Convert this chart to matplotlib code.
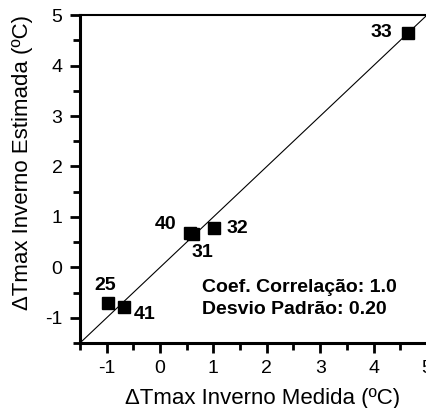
import matplotlib
matplotlib.use("Agg")
import matplotlib.pyplot as plt
from matplotlib.ticker import MultipleLocator

# data: measured vs estimated winter Tmax change
labels = ["33", "40", "31", "32", "25", "41"]
medida = [4.64, 0.57, 0.62, 1.02, -0.98, -0.68]
estimada = [4.64, 0.69, 0.66, 0.78, -0.71, -0.79]
# label offsets in pixels (dx, dy)
offsets = [(-26, 1), (-25, 8), (9, -18), (23, 0), (-2, 18), (21, -7)]

plt.rcParams['font.family'] = ['Liberation Sans', 'DejaVu Sans']
plt.rcParams['axes.unicode_minus'] = False

fig = plt.figure(figsize=(4.27, 4.08), dpi=100, facecolor='white')
ax = fig.add_axes([0.187, 0.159, 0.813, 0.804])

# 1:1 line
ax.plot([-1.5, 5], [-1.5, 5], color='black', lw=0.8)
ax.plot(medida, estimada, 's', color='black', markersize=8, clip_on=False)

for lab, x, y, (dx, dy) in zip(labels, medida, estimada, offsets):
    ax.annotate(lab, (x, y), xytext=(dx, dy), textcoords='offset pixels',
                ha='center', va='center', fontsize=14, fontweight='bold')

ax.text(0.79, -0.39, "Coef. Correlação: 1.0", fontsize=14, fontweight='bold',
        ha='left', va='center')
ax.text(0.79, -0.84, "Desvio Padrão: 0.20", fontsize=14, fontweight='bold',
        ha='left', va='center')

ax.set_xlim(-1.5, 5)
ax.set_ylim(-1.5, 5)
ax.xaxis.set_major_locator(MultipleLocator(1))
ax.xaxis.set_minor_locator(MultipleLocator(0.5))
ax.yaxis.set_major_locator(MultipleLocator(1))
ax.yaxis.set_minor_locator(MultipleLocator(0.5))

ax.spines['right'].set_visible(False)
ax.spines['left'].set_linewidth(2.2)
ax.spines['bottom'].set_linewidth(2.2)
ax.spines['top'].set_linewidth(1.5)

ax.tick_params(which='major', direction='out', length=7.5, width=2, labelsize=14, pad=5)
ax.tick_params(which='minor', direction='out', length=5, width=2)
ax.tick_params(top=False, right=False, which='both')

ax.set_xlabel("ΔTmax Inverno Medida (ºC)", fontsize=16, va='center', ha='center')
ax.set_ylabel("ΔTmax Inverno Estimada (ºC)", fontsize=16, va='center', ha='center')
ax.xaxis.set_label_coords(0.525, -0.168)
ax.yaxis.set_label_coords(-0.164, 0.552)

fig.savefig("out.png", dpi=100)
